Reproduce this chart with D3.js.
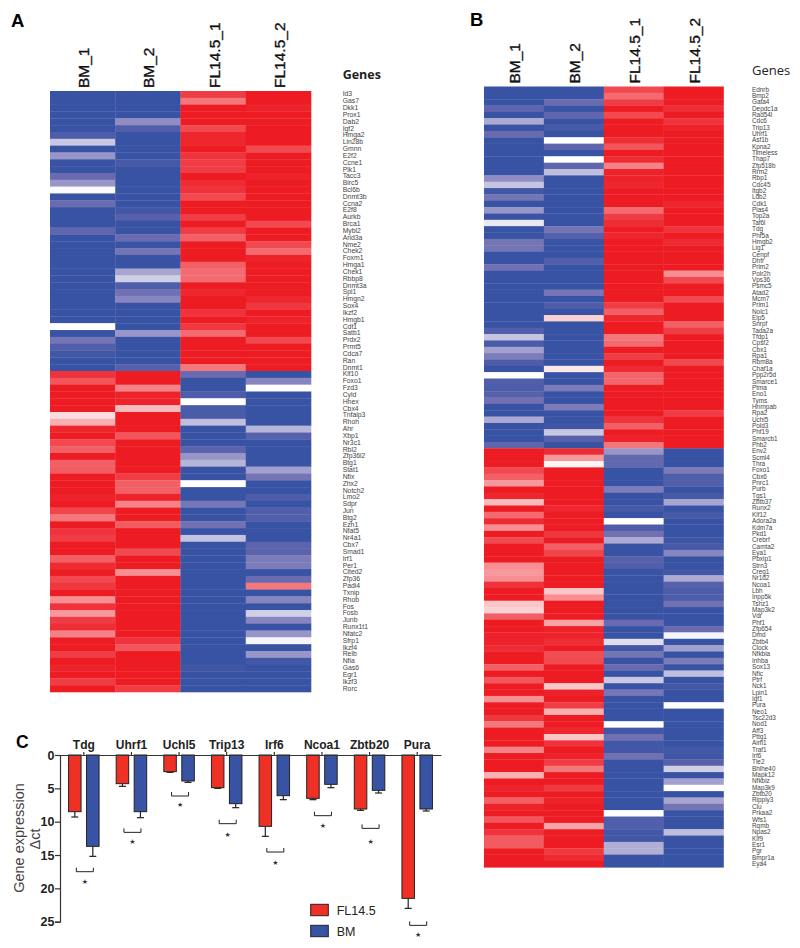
<!DOCTYPE html>
<html>
<head>
<meta charset="utf-8">
<script src="https://cdn.jsdelivr.net/npm/d3@7"></script>
<style>
html,body{margin:0;padding:0;background:#fff}
svg{display:block}
text{font-family:"Liberation Sans",Arial,sans-serif}
</style>
</head>
<body>
<svg id="chart" width="800" height="948"></svg>
<script>
const samples = ["BM_1","BM_2","FL14.5_1","FL14.5_2"];

const genesA = ["Id3","Gas7","Dkk1","Prox1","Dab2","Igf2","Hmga2","Lin28b","Gmnn","E2f2","Ccne1","Plk1","Tacc3","Birc5","Bcl6b","Dnmt3b","Ccna2","E2f8","Aurkb","Brca1","Mybl2","Arid3a","Nme2","Chek2","Foxm1","Hmga1","Chek1","Rbbp8","Dnmt3a","Spi1","Hmgn2","Sox4","Ikzf2","Hmgb1","Cdt1","Satb1","Prdx2","Prmt5","Cdca7","Ran","Dnmt1","Klf10","Foxo1","Fzd3","Cyld","Hhex","Cbx4","Tnfaip3","Rhoh","Ahr","Xbp1","Nr3c1","Rbl2","Zfp36l2","Btg1","Stat1","Nfix","Zhx2","Notch2","Lmo2","Sdpr","Jun","Btg2","Ezh1","Nfat5","Nr4a1","Cbx7","Smad1","Irf1","Per1","Cited2","Zfp36","Padi4","Txnip","Rhob","Fos","Fosb","Junb","Runx1t1","Nfatc2","Sfrp1","Ikzf4","Relb","Nfia","Gas6","Egr1","Ikzf3","Rorc"];

const genesB = ["Ednrb","Bmp2","Gata4","Depdc1a","Rad54l","Cdc6","Trip13","Uhrf1","Asf1b","Kpna2","Timeless","Thap7","Zfp518b","Rrm2","Rbp1","Cdc45","Itgb2","Ldb2","Cdk1","Pias4","Top2a","Taf6l","Tdg","Phf5a","Hmgb2","Lig1","Cenpf","Dhfr","Prim2","Polr2h","Vps36","Psmc5","Atad2","Mcm7","Prim1","Nolc1","Elp5","Snrpf","Tada2a","Tfdp1","Cpsf2","Cbx1","Rpa1","Rbm8a","Chaf1a","Ppp2r5d","Smarce1","Ptma","Eno1","Tyms","Hnrnpab","Rpa2","Uchl5","Pold3","Phf19","Smarcb1","Phb2","Env2","Scml4","Thra","Foxo1","Cbx6","Pnrc1","Purb","Tgs1","Zbtb37","Runx2","Klf12","Adora2a","Kdm7a","Pkd1","Crebrf","Camta2","Eya1","Pbxip1","Strn3","Creg1","Nr1d2","Ncoa1","Lbh","Inpp5k","Tshz1","Map3k2","Vdr","Phf1","Zfp654","Dmd","Zbtb4","Clock","Nfkbia","Inhba","Sox13","Nfic","Ptrf","Nck1","Lpin1","Igf1","Pura","Neo1","Tsc22d3","Nod1","Aff3","Pttg1","Aim1","Traf1","Irf6","Tle2","Bhlhe40","Mapk12","Nfkbiz","Map3k9","Zbtb20","Ripply3","Clu","Prkaa2","Wfs1","Rqmb","Npas2","Klf9","Esr1","Pgr","Bmpr1a","Eya4"];

// z-score-like shade per gene: -1 full blue, 0 white, +1 full red
const aBM1 = [-1,-1,-1,-1,-1,-1,-.9,-.25,-1,-.5,
 -1,-1,-.75,-.5,-.02,-1,-.75,-1,-1,-1,
 -.8,-1,-1,-1,-1,-1,-1,-1,-1,-1,
 -1,-1,-1,-1,0,-1,-.7,-.88,-.95,-1,
 -1,.9,.75,1,1,1,1,.15,.35,.95,
 1,.8,.7,1,.7,.72,1,1,1,.97,
 1,.82,.6,1,.9,.85,1,1,.7,.93,
 1,.8,.88,1,.5,.9,.45,.85,.92,.55,
 1,1,.85,1,.97,1,.85,1];
const aBM2 = [-1,-1,-1,-1,-.55,-.88,-1,-1,-1,-1,
 -.93,-1,-1,-1,-1,-1,-1,-.95,-.85,-1,
 -1,-.75,-1,-.7,-1,-1,-.42,-.22,-.9,-.72,
 -.6,-1,-1,-1,-1,-.5,-1,-1,-1,-1,
 -.85,1,1,.55,.97,.97,.3,1,1,1,
 .75,1,1,1,1,1,.85,.7,.7,.97,
 .55,1,1,.72,1,1,1,.8,1,1,
 .5,1,1,1,1,1,1,1,1,1,
 .9,.75,1,1,1,1,1,.85];
const aFL1 = [.85,.6,1,1,1,.8,.95,.95,1,.9,
 .85,.85,1,.93,.9,.8,1,1,.85,1,
 .85,.7,1,1,1,.7,.65,.65,1,.95,
 1,1,.9,1,.88,.65,1,1,1,1,
 .6,-.75,-1,-1,-.9,0,-.92,-.92,-.3,-1,
 -1,-1,-.82,-.5,-.35,-1,-1,0,-1,-1,
 -.68,-1,-1,-.72,-1,-.28,-1,-1,-1,-1,
 -1,-1,-1,-1,-1,-1,-1,-1,-1,-1,
 -1,-1,-1,-1,-.97,-1,-1,-1];
const aFL2 = [1,1,.97,1,1,1,1,1,.8,1,
 1,1,.97,1,1,1,1,1,1,.8,
 1,1,.8,.65,.97,1,1,1,1,1,
 .95,.88,1,.97,1,1,.8,1,1,1,
 1,-1,-.6,0,-1,-1,-1,-1,-1,-.35,
 -.85,-1,-1,-1,-1,-.45,-.7,-1,-1,-.9,
 -1,-.88,-.88,-1,-1,-1,-.82,-.82,-.65,-.65,
 -1,-.75,.6,-1,-.6,-1,-.22,-.6,-1,-.5,
 -.05,-1,-.5,-.95,-1,-1,-1,-1];

const bBM1 = [-1,-1,-1,-.8,-1,-.4,-1,-.75,-1,-1,
 -1,-1,-1,-1,-.55,-.27,-.95,-.7,-1,-.5,
 -1,-.1,-1,-1,-.7,-.7,-1,-1,-.72,-1,
 -1,-1,-1,-1,-1,-1,-1,-1,-.87,-.27,
 -.92,-.45,-.65,-.9,-1,0,-.88,-.9,-.85,-.72,
 -1,-1,-.4,-1,-1,-1,-.8,1,1,1,
 .8,.7,.45,1,.95,.3,1,.65,.93,.5,
 1,.8,1,1,1,.5,.45,.5,.9,1,
 1,.25,.2,.7,1,1,.97,.97,.93,1,
 1,.7,1,.75,1,1,.5,1,1,.88,
 .6,1,1,1,.55,1,1,1,.35,1,
 .97,1,.7,.97,1,.75,1,.9,.72,.72,
 1,1,1];
const bBM2 = [-1,-1,-.75,-1,-.8,-1,-.93,-1,0,-.8,
 -1,0,-.8,-.3,-1,-1,-1,-1,-1,-1,
 -1,-1,-.7,-.85,-1,-1,-1,-.88,-1,-1,
 -1,-1,-.68,-1,-.9,-1,.2,-1,-1,-1,
 -1,-1,-1,-1,.1,-1,-1,-.65,-1,-1,
 -.65,-1,-1,-.97,-.25,-.85,-1,.93,.45,.05,
 1,1,1,1,1,1,.95,1,1,1,
 .88,1,.7,.82,1,1,1,1,1,.25,
 .5,1,1,1,.4,.97,.97,.92,1,.78,
 .8,1,1,1,.25,.97,1,.85,.35,1,
 1,.95,.25,.9,1,.97,.85,.6,1,1,
 .87,1,.97,1,1,1,.4,1,1,1,
 .87,.93,1];
const bFL1 = [.8,.65,.85,1,.8,1,1,1,.92,.75,
 1,.93,.55,.97,.97,.95,1,1,1,.65,
 .85,.92,1,.95,1,1,1,1,1,1,
 1,1,1,1,.85,.7,.95,1,1,.6,
 .65,1,.85,1,.93,.68,.68,1,1,1,
 1,1,.9,.7,1,.97,.6,-.5,-.78,-.78,
 -1,-1,-1,-.65,-1,-1,-.93,-1,0,-.9,
 -.72,-.4,-1,-1,-.85,-.88,-1,-1,-1,-1,
 -1,-1,-1,-1,-.75,-1,-1,-.15,-.95,-.7,
 -1,-.75,-1,-.25,-1,-.68,-1,-1,-1,-1,
 0,-.95,-.72,-.95,-.95,-.72,-1,-1,-1,-1,
 -1,-1,-1,-1,0,-.88,-.88,-.95,-.95,-.38,
 -.38,-1,-1];
const bFL2 = [1,1,1,.92,1,.9,.97,1,1,1,
 1,1,1,1,1,1,1,1,.95,1,
 1,1,.9,1,.93,1,1,1,1,.5,
 .8,1,1,.8,1,1,1,.7,.85,1,
 1,1,1,.8,1,1,1,1,1,1,
 1,.85,1,1,1,1,1,-1,-1,-1,
 -.65,-.88,-.88,-1,-.93,-.42,-1,-.93,-1,-1,
 -1,-.97,-.93,-.6,-1,-1,-.95,-.4,-.85,-.9,
 -.9,-.72,-1,-1,-1,-.75,-.05,-1,-.45,-1,
 -.65,-1,-.3,-1,-.95,-1,-1,0,-1,-1,
 -1,-1,-1,-1,-.95,-.97,-.85,-.22,-1,-.45,
 0,-1,-.42,-.7,-1,-1,-1,-.3,-1,-1,
 -1,-1,-1];

// Panel C
const qGenes  = ["Tdg","Uhrf1","Uchl5","Trip13","Irf6","Ncoa1","Zbtb20","Pura"];
const groups  = ["FL14.5","BM"];
const flMean  = [8.5,4.3,2.5,4.9,10.7,6.5,8.1,21.5];
const flTop   = [9.3,4.7,2.6,5.0,12.2,6.7,8.3,23.0];
const bmMean  = [13.7,8.5,3.9,7.3,6.1,4.4,5.3,8.1];
const bmTop   = [15.2,9.4,4.1,7.9,6.7,4.9,5.7,8.4];
const sigLine = [17.5,11.6,6.15,10.3,14.55,9.1,11.0,25.55];
const sigStar = [19.0,13.0,7.5,11.95,16.1,10.6,12.95,27.0];
const yTicks  = [0,5,10,15,20,25];

const BLUE = "#3953a4", RED = "#ed1c24";
const svg = d3.select("#chart");
const defs = svg.append("defs");
defs.append("filter").attr("id","soft")
  .attr("x","-2%").attr("y","-2%").attr("width","104%").attr("height","104%")
  .append("feGaussianBlur").attr("stdDeviation",0.45);

const shade = d3.scaleLinear()
  .domain([-1,-.75,-.5,-.25,0,1])
  .range([BLUE,"#6a6bb0","#9896c9","#c9c8e3","#ffffff",RED]).clamp(true);

function heatmap(cfg){
  const x = d3.scaleBand().domain(samples).range([cfg.x0,cfg.x1]);
  const y = d3.scaleBand().domain(cfg.genes).range([cfg.y0,cfg.y1]);
  const g = svg.append("g");
  const cells = g.append("g").attr("filter","url(#soft)");
  samples.forEach((s,si)=>{
    cells.selectAll(null).data(cfg.genes).join("rect")
      .attr("x",x(s)).attr("y",d=>y(d))
      .attr("width",x.bandwidth()+0.3).attr("height",y.bandwidth()+0.3)
      .attr("fill",(d,i)=>shade(cfg.values[si][i]));
  });
  g.selectAll("text.sample").data(samples).join("text")
    .attr("class","sample")
    .attr("transform",d=>`translate(${x(d)+x.bandwidth()/2+6.5},${cfg.y0-3}) rotate(-90)`)
    .attr("font-size",15.5).attr("fill","#111")
    .attr("stroke","#111").attr("stroke-width",0.35)
    .text(d=>d);
  g.selectAll("text.gene").data(cfg.genes).join("text")
    .attr("class","gene")
    .attr("x",cfg.labelX).attr("y",d=>y(d)+y.bandwidth()/2-0.4)
    .attr("dy","0.35em").attr("font-size",cfg.labelSize).attr("fill","#444")
    .text(d=>d);
  g.append("text").attr("x",cfg.labelX).attr("y",cfg.titleY)
    .style("font-family","'Open Sans',sans-serif")
    .attr("font-size",cfg.titleSize).attr("font-weight",cfg.titleWeight).attr("fill","#222")
    .text("Genes");
}

heatmap({genes:genesA,values:[aBM1,aBM2,aFL1,aFL2],x0:50,x1:311,y0:91,y1:692,
  labelX:342.7,labelSize:6.8,titleY:78.5,titleSize:12.5,titleWeight:700});
heatmap({genes:genesB,values:[bBM1,bBM2,bFL1,bFL2],x0:484,x1:723.5,y0:86.5,y1:867.3,
  labelX:752,labelSize:6.4,titleY:75,titleSize:13,titleWeight:400});

// Panel letters
[["A",11,26.5,18.5],["B",470,26,18.5],["C",16,748,17.5]].forEach(([t,px,py,fs])=>{
  svg.append("text").attr("x",px).attr("y",py).attr("font-size",fs)
    .attr("font-weight",700).attr("fill","#000").text(t);
});

// Panel C
const xC = d3.scaleBand().domain(qGenes).range([60,441]);
const sub = d3.scaleBand().domain(groups).range([-15.25,15.25]).paddingInner(0.305);
const yC = d3.scaleLinear().domain([0,25]).range([755,921.7]);
const gC = svg.append("g");

const barData = qGenes.flatMap((g,i)=>[
  {gene:g,group:"FL14.5",mean:flMean[i],top:flTop[i],fill:"#ee3124"},
  {gene:g,group:"BM",mean:bmMean[i],top:bmTop[i],fill:BLUE}
]);
const cx = d=>xC(d.gene)+xC.bandwidth()/2+sub(d.group)+sub.bandwidth()/2;

gC.selectAll("line.err").data(barData).join("line").attr("class","err")
  .attr("x1",cx).attr("x2",cx).attr("y1",d=>yC(d.mean)).attr("y2",d=>yC(d.top))
  .attr("stroke","#222").attr("stroke-width",1.2);
gC.selectAll("line.cap").data(barData).join("line").attr("class","cap")
  .attr("x1",d=>cx(d)-3.5).attr("x2",d=>cx(d)+3.5).attr("y1",d=>yC(d.top)).attr("y2",d=>yC(d.top))
  .attr("stroke","#222").attr("stroke-width",1.2);
gC.selectAll("rect.bar").data(barData).join("rect").attr("class","bar")
  .attr("x",d=>xC(d.gene)+xC.bandwidth()/2+sub(d.group))
  .attr("y",yC(0)).attr("width",sub.bandwidth())
  .attr("height",d=>yC(d.mean)-yC(0))
  .attr("fill",d=>d.fill).attr("stroke","#222").attr("stroke-width",1);

const axisY = gC.append("g").attr("transform","translate(60,0)")
  .call(d3.axisLeft(yC).tickValues(yTicks).tickSize(5).tickPadding(0.5));
axisY.selectAll("path,line").attr("stroke","#333").attr("stroke-width",1.2);
axisY.selectAll("text").attr("font-size",12.5).attr("font-weight",700).attr("fill","#222")
  .style("font-family","'Liberation Sans',sans-serif");

const axisX = gC.append("g").attr("transform",`translate(0,${yC(0)})`)
  .call(d3.axisTop(xC).tickSize(3).tickSizeOuter(0).tickPadding(3));
axisX.selectAll("path,line").attr("stroke","#333").attr("stroke-width",1.2);
axisX.selectAll("text").attr("font-size",12).attr("font-weight",700).attr("fill","#222")
  .style("font-family","'Liberation Sans',sans-serif");

// significance brackets
qGenes.forEach((g,i)=>{
  const c = xC(g)+xC.bandwidth()/2+1, yy = yC(sigLine[i]);
  gC.append("path").attr("fill","none").attr("stroke","#222").attr("stroke-width",1)
    .attr("d",d3.line()([[c-8.5,yy-4],[c-8.5,yy],[c+8.5,yy],[c+8.5,yy-4]]));
  gC.append("text").attr("x",c).attr("y",yC(sigStar[i])).attr("dy","0.35em")
    .attr("text-anchor","middle").attr("font-size",7)
    .style("font-family","'DejaVu Sans',sans-serif").attr("fill","#333").text("★");
});

// axis titles
gC.append("text").attr("transform","translate(23.5,838) rotate(-90)").attr("text-anchor","middle")
  .attr("font-size",14.5).attr("fill","#444").text("Gene expression");
gC.append("text").attr("transform","translate(40,839) rotate(-90)").attr("text-anchor","middle")
  .attr("font-size",14.5).attr("fill","#444").text("Δct");

// legend
const legendY = d3.scalePoint().domain(groups).range([910,931]);
const legendFill = d3.scaleOrdinal().domain(groups).range(["#ee3124",BLUE]);
gC.selectAll("rect.lg").data(groups).join("rect").attr("class","lg")
  .attr("x",310.7).attr("y",d=>legendY(d)-5.7).attr("width",17.6).attr("height",11.4)
  .attr("fill",d=>legendFill(d)).attr("stroke","#222").attr("stroke-width",1);
gC.selectAll("text.lg").data(groups).join("text").attr("class","lg")
  .attr("x",336.7).attr("y",d=>legendY(d)).attr("dy","0.36em")
  .attr("font-size",12.5).attr("fill","#222").text(d=>d);
</script>
</body>
</html>
